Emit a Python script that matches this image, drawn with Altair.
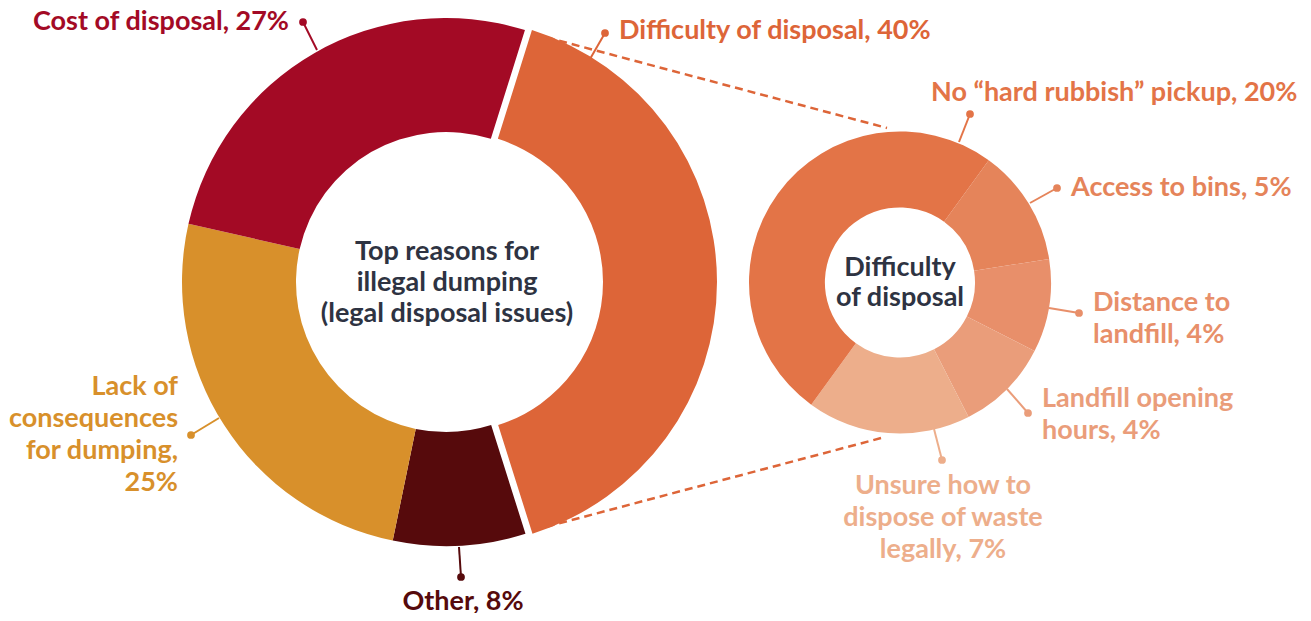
import math
import altair as alt
import pandas as pd

# ---------------- data ----------------
big_cats = ["Difficulty of disposal", "Other", "Lack of consequences for dumping", "Cost of disposal"]
big_vals = [40.3, 8.1, 25.3, 26.3]   # slice sizes as drawn in the picture

small_cats = ["Access to bins", "Distance to landfill", "Landfill opening hours",
              "Unsure how to dispose of waste legally", "No “hard rubbish” pickup"]
small_vals = [5, 4, 4, 7, 20]

label_lines = {
    "Cost of disposal": ["Cost of disposal, 27%"],
    "Difficulty of disposal": ["Difficulty of disposal, 40%"],
    "Other": ["Other, 8%"],
    "Lack of consequences for dumping": ["Lack of", "consequences", "for dumping,", "25%"],
    "No “hard rubbish” pickup": ["No “hard rubbish” pickup, 20%"],
    "Access to bins": ["Access to bins, 5%"],
    "Distance to landfill": ["Distance to", "landfill, 4%"],
    "Landfill opening hours": ["Landfill opening", "hours, 4%"],
    "Unsure how to dispose of waste legally": ["Unsure how to", "dispose of waste", "legally, 7%"],
}
center_big_lines = ["Top reasons for", "illegal dumping", "(legal disposal issues)"]
center_small_lines = ["Difficulty", "of disposal"]

# ---------------- style / layout ----------------
big_colors = ["#DD6538", "#560A0C", "#D8902B", "#A30A25"]
small_colors = ["#E37447", "#E5845A", "#E88F6A", "#EA9D7A", "#EDAE8B"]
small_color_map = dict(zip(
    ["No “hard rubbish” pickup", "Access to bins", "Distance to landfill",
     "Landfill opening hours", "Unsure how to dispose of waste legally"], small_colors))
CENTER_COLOR = "#2E3342"

all_domain = big_cats + small_cats + ["center"]
all_range = big_colors + [small_color_map[c] for c in small_cats] + [CENTER_COLOR]
color_scale = alt.Scale(domain=all_domain, range=all_range)

W, H = 1295, 605
OFF = 8
FONT = "Lato"
FS = 27
LH = 32

BIG_C = (445 - OFF, 281 - OFF)
BIG_R, BIG_R2 = 264, 150
EXPLODE = 7
BIG_START = math.radians(17.4)

SMALL_C = (899 - OFF, 281.5 - OFF)
SMALL_R, SMALL_R2 = 151, 75
SMALL_START = math.radians(36)

# page coords: (text x, first baseline, align, dot, leader end)
layout = {
    "Cost of disposal": (288, 29, "right", (302, 21), (316, 49)),
    "Difficulty of disposal": (618, 38, "left", (604, 32), (589, 58)),
    "Other": (462, 609, "center", (460, 576), (458, 546)),
    "Lack of consequences for dumping": (177, 394, "right", (190, 434), (218, 417)),
    "No “hard rubbish” pickup": (930, 100, "left", (969, 113), (958, 141)),
    "Access to bins": (1070, 195, "left", (1056, 187), (1029, 202)),
    "Distance to landfill": (1092, 310, "left", (1078, 312), (1048, 307)),
    "Landfill opening hours": (1041, 406, "left", (1027, 412), (1006, 388)),
    "Unsure how to dispose of waste legally": (942, 493, "center", (941, 459), (933, 428)),
}
center_layout = [(center_big_lines, 446, 259, 31), (center_small_lines, 899, 275, 30)]
dashes = [((533, 33), (886, 127)), ((533, 529), (884, 436))]

# ---------------- tables ----------------
big_df = pd.DataFrame({"cat": big_cats, "value": big_vals, "order": list(range(len(big_cats)))})
small_df = pd.DataFrame({"cat": small_cats, "value": small_vals, "order": list(range(len(small_cats)))})

text_rows, lead_rows = [], []
for cat, lines in label_lines.items():
    tx, ty, al, dot, end = layout[cat]
    for i, ln in enumerate(lines):
        text_rows.append({"t": ln, "x": tx - OFF, "y": ty - OFF + i * LH, "cat": cat, "align": al})
    lead_rows.append({"cat": cat, "x": dot[0] - OFF, "y": dot[1] - OFF,
                      "x2": end[0] - OFF, "y2": end[1] - OFF})
for lines, cx, by, lh in center_layout:
    for i, ln in enumerate(lines):
        text_rows.append({"t": ln, "x": cx - OFF, "y": by - OFF + i * lh, "cat": "center", "align": "center"})
text_df = pd.DataFrame(text_rows)
lead_df = pd.DataFrame(lead_rows)
dash_df = pd.DataFrame([{"cat": "Difficulty of disposal", "x": a[0] - OFF, "y": a[1] - OFF,
                         "x2": b[0] - OFF, "y2": b[1] - OFF} for a, b in dashes])

xs = alt.Scale(domain=[0, W], range=[0, W], nice=False, zero=False)
ys = alt.Scale(domain=[0, H], range=[0, H], nice=False, zero=False)
col = alt.Color("cat:N", scale=color_scale, legend=None)


def donut(df, total, start, center, r, r2, keep, dx=0):
    base = alt.Chart(df).transform_window(
        cum="sum(value)", sort=[alt.SortField("order")], frame=[None, 0]
    ).transform_calculate(start="datum.cum - datum.value")
    if keep is not None:
        base = base.transform_filter(keep)
    return base.mark_arc(radius=r, radius2=r2).encode(
        theta=alt.Theta("start:Q", stack=False,
                        scale=alt.Scale(domain=[0, total], range=[start, start + 2 * math.pi])),
        theta2="cum:Q",
        color=col,
        x=alt.value(center[0] + dx),
        y=alt.value(center[1]),
    )


big_rest = donut(big_df, 100, BIG_START, BIG_C, BIG_R, BIG_R2,
                 "datum.cat != 'Difficulty of disposal'")
big_diff = donut(big_df, 100, BIG_START, BIG_C, BIG_R, BIG_R2,
                 "datum.cat == 'Difficulty of disposal'", dx=EXPLODE)
small = donut(small_df, 40, SMALL_START, SMALL_C, SMALL_R, SMALL_R2, None)

dash_layer = alt.Chart(dash_df).mark_rule(strokeWidth=2.5, strokeDash=[8, 5]).encode(
    x=alt.X("x:Q", scale=xs, axis=None), y=alt.Y("y:Q", scale=ys, axis=None),
    x2="x2:Q", y2="y2:Q", color=col)

lead_layer = alt.Chart(lead_df).mark_rule(strokeWidth=2).encode(
    x=alt.X("x:Q", scale=xs, axis=None), y=alt.Y("y:Q", scale=ys, axis=None),
    x2="x2:Q", y2="y2:Q", color=col)

dot_layer = alt.Chart(lead_df).mark_circle(size=60, opacity=1).encode(
    x=alt.X("x:Q", scale=xs, axis=None), y=alt.Y("y:Q", scale=ys, axis=None), color=col)


def text_layer(al):
    return alt.Chart(text_df).transform_filter(f"datum.align == '{al}'").mark_text(
        align=al, baseline="alphabetic", font=FONT, fontSize=FS, fontWeight="bold"
    ).encode(
        x=alt.X("x:Q", scale=xs, axis=None), y=alt.Y("y:Q", scale=ys, axis=None),
        text="t:N", color=col)


chart = alt.layer(
    big_rest, big_diff, small, dash_layer, lead_layer, dot_layer,
    text_layer("left"), text_layer("right"), text_layer("center"),
).resolve_scale(theta="independent").properties(
    width=W, height=H, padding=0,
    autosize=alt.AutoSizeParams(type="fit", contains="padding"),
).configure_view(stroke=None)

chart.save("out.html", embed_options={"renderer": "svg", "actions": False})
